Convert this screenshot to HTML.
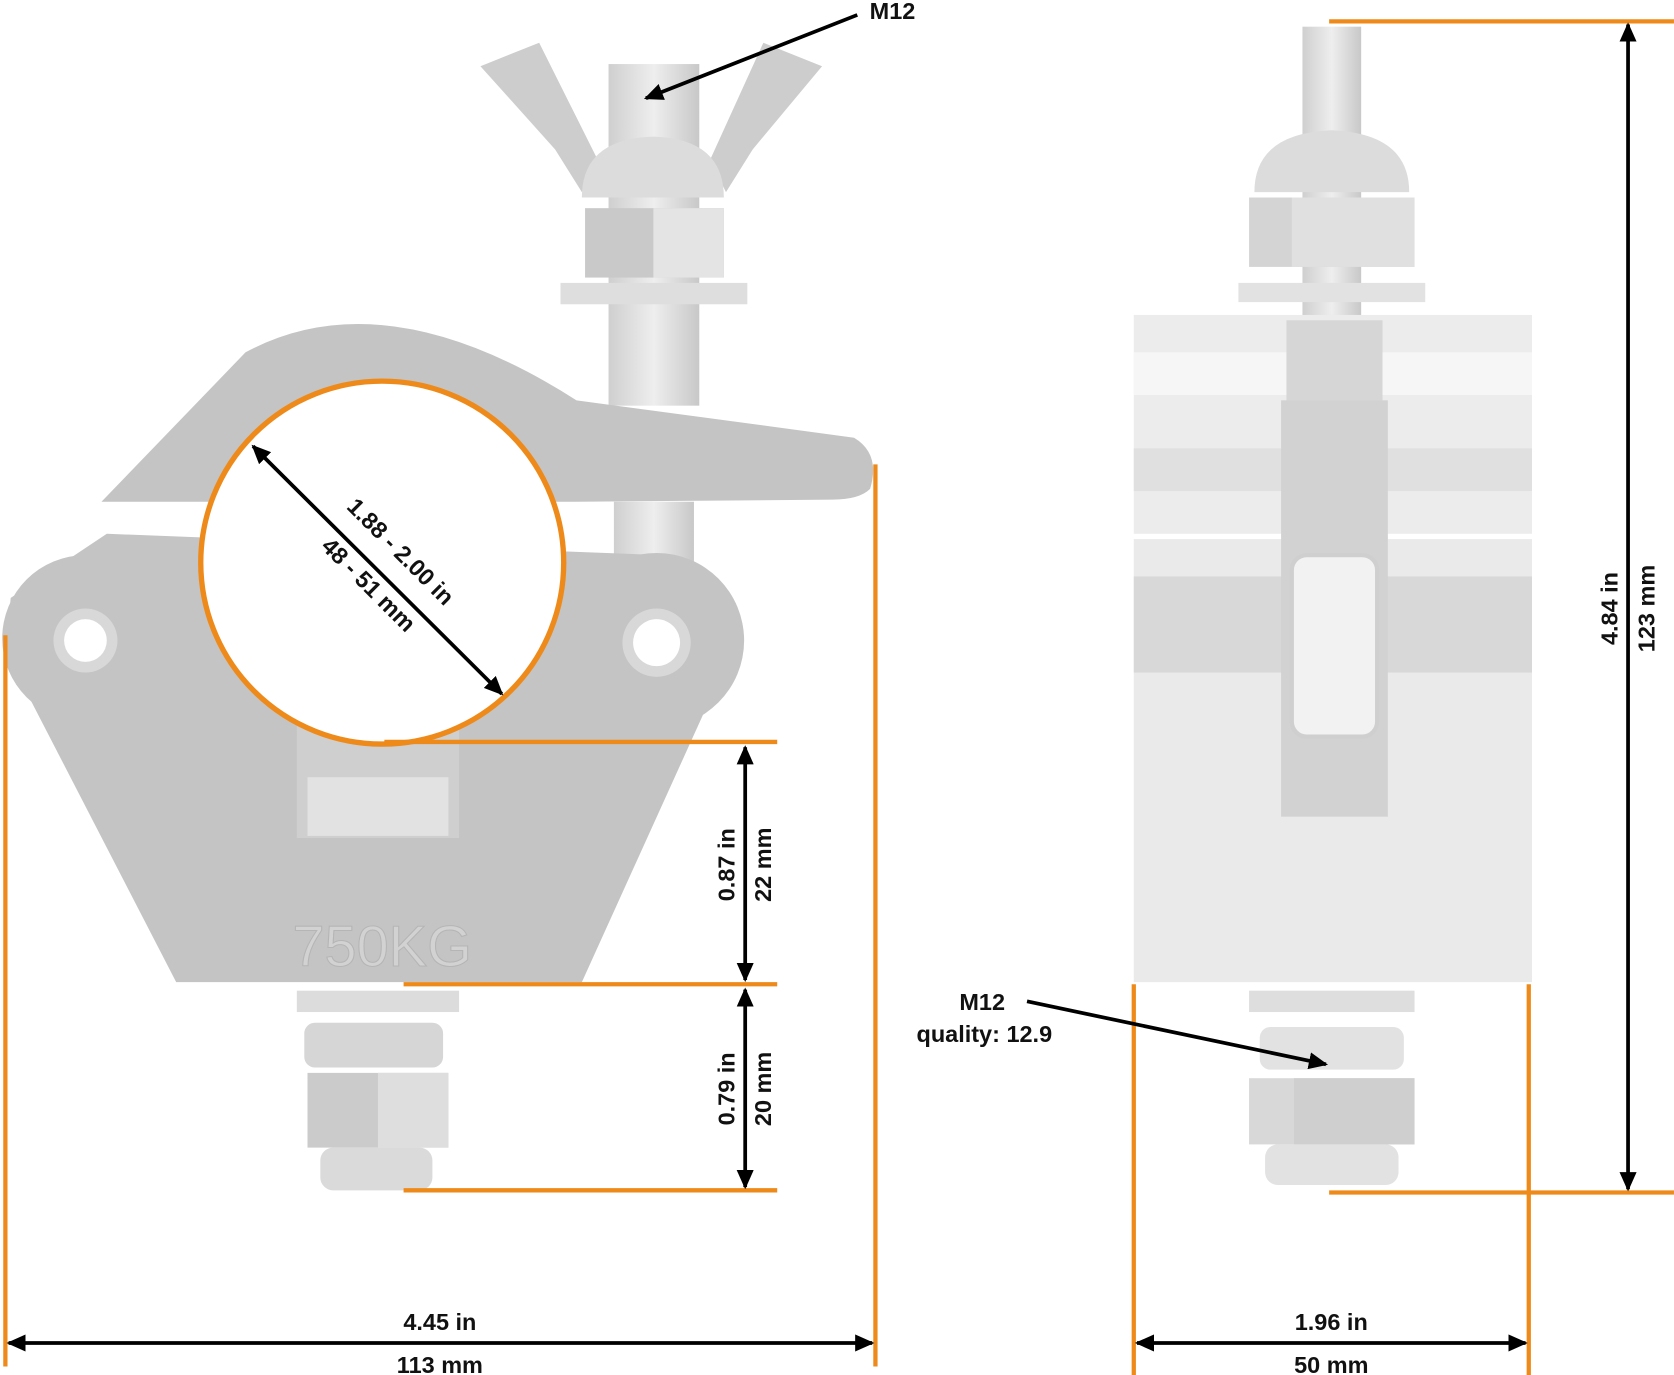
<!DOCTYPE html>
<html><head><meta charset="utf-8"><style>
html,body{margin:0;padding:0;background:#fff;}
svg{display:block;}
text{font-family:"Liberation Sans",sans-serif;font-weight:bold;fill:#111;}
</style></head><body>
<svg width="1674" height="1375" viewBox="0 0 1568 1288" xmlns="http://www.w3.org/2000/svg">
<defs>
<marker id="a" markerWidth="8" markerHeight="8" refX="7" refY="4" orient="auto-start-reverse" markerUnits="userSpaceOnUse" viewBox="0 0 8 8"><path d="M0,0 L8,4 L0,8z" fill="#000"/></marker>
<marker id="b" markerWidth="18" markerHeight="16" refX="16" refY="8" orient="auto-start-reverse" markerUnits="userSpaceOnUse"><path d="M0,0 L18,8 L0,16z" fill="#000"/></marker>
<linearGradient id="g1" x1="0" x2="1"><stop offset="0" stop-color="#cfcfcf"/><stop offset=".5" stop-color="#eee"/><stop offset="1" stop-color="#c8c8c8"/></linearGradient>
</defs>

<!-- LEFT CLAMP -->
<!-- top bolt -->
<rect x="570" y="60" width="85" height="320" fill="url(#g1)"/>
<path d="M450,62 L505,40 L560,150 L545,180 L520,140 Z" fill="#cdcdcd"/>
<path d="M770,62 L715,40 L665,150 L680,180 L705,140 Z" fill="#cdcdcd"/>
<path d="M545,185 Q545,130 612,128 Q678,130 678,185 Z" fill="#dcdcdc"/>
<rect x="548" y="195" width="130" height="65" fill="#c9c9c9"/>
<rect x="612" y="195" width="66" height="65" fill="#e4e4e4"/>
<rect x="525" y="265" width="175" height="20" fill="#dedede"/>
<rect x="575" y="470" width="75" height="60" fill="url(#g1)"/>
<!-- body -->
<path d="M95,470 L230,330 Q360,260 540,375 L800,410 Q825,425 815,458 Q805,468 780,468 L540,470 L95,470 Z" fill="#c4c4c4"/>
<circle cx="80" cy="598" r="78" fill="#c4c4c4"/>
<circle cx="615" cy="600" r="82" fill="#c4c4c4"/>
<path d="M10,560 L100,500 L620,520 L690,600 L545,920 L165,920 L5,610 Z" fill="#c4c4c4"/>
<circle cx="80" cy="600" r="30" fill="#d8d8d8"/><circle cx="80" cy="600" r="20" fill="#fff"/>
<circle cx="615" cy="602" r="32" fill="#d8d8d8"/><circle cx="615" cy="602" r="22" fill="#fff"/>
<rect x="278" y="620" width="152" height="165" fill="#cfcfcf"/>
<rect x="288" y="728" width="132" height="55" fill="#e2e2e2"/>
<circle cx="358" cy="527" r="170" fill="#fff" stroke="#ee8a1a" stroke-width="5"/>
<text x="358" y="905" font-size="54" text-anchor="middle" fill="#d5d5d5" style="fill:#d2d2d2;font-weight:normal" stroke="#b5b5b5" stroke-width="1">750KG</text>
<!-- bottom bolt -->
<rect x="278" y="928" width="152" height="20" fill="#dcdcdc"/>
<rect x="285" y="958" width="130" height="42" rx="10" fill="#d6d6d6"/>
<rect x="288" y="1005" width="132" height="70" fill="#cbcbcb"/>
<rect x="354" y="1005" width="66" height="70" fill="#dedede"/>
<rect x="300" y="1075" width="105" height="40" rx="12" fill="#dadada"/>

<!-- RIGHT CLAMP -->
<rect x="1220" y="25" width="55" height="350" fill="url(#g1)"/>
<path d="M1175,180 Q1175,125 1247,122 Q1320,125 1320,180 Z" fill="#dcdcdc"/>
<rect x="1170" y="185" width="155" height="65" fill="#d4d4d4"/>
<rect x="1210" y="185" width="115" height="65" fill="#e0e0e0"/>
<rect x="1160" y="265" width="175" height="18" fill="#e2e2e2"/>
<rect x="1062" y="295" width="373" height="205" fill="#ececec"/>
<rect x="1062" y="330" width="373" height="40" fill="#f6f6f6"/>
<rect x="1062" y="420" width="373" height="40" fill="#e0e0e0"/>
<rect x="1062" y="505" width="373" height="415" fill="#eaeaea"/>
<rect x="1062" y="540" width="373" height="90" fill="#d8d8d8"/>
<rect x="1205" y="300" width="90" height="80" fill="#d6d6d6"/>
<rect x="1200" y="375" width="100" height="390" fill="#d2d2d2"/>
<rect x="1210" y="520" width="80" height="170" rx="14" fill="#f2f2f2" stroke="#cfcfcf" stroke-width="4"/>
<rect x="1170" y="928" width="155" height="20" fill="#dedede"/>
<rect x="1180" y="962" width="135" height="40" rx="10" fill="#e2e2e2"/>
<rect x="1170" y="1010" width="155" height="62" fill="#d8d8d8"/>
<rect x="1212" y="1010" width="113" height="62" fill="#cfcfcf"/>
<rect x="1185" y="1072" width="125" height="38" rx="12" fill="#e2e2e2"/>

<!-- ORANGE DIM LINES -->
<g stroke="#ee8a1a" stroke-width="4" fill="none">
<line x1="820" y1="435" x2="820" y2="1280"/>
<line x1="5" y1="595" x2="5" y2="1280"/>
<line x1="360" y1="695" x2="728" y2="695"/>
<line x1="378" y1="922" x2="728" y2="922"/>
<line x1="378" y1="1115" x2="728" y2="1115"/>
<line x1="1062" y1="922" x2="1062" y2="1288"/>
<line x1="1432" y1="922" x2="1432" y2="1288"/>
<line x1="1245" y1="20" x2="1568" y2="20"/>
<line x1="1245" y1="1117" x2="1568" y2="1117"/>
</g>

<!-- ARROWS -->
<g stroke="#000" stroke-width="3.5">
<line x1="698" y1="700" x2="698" y2="918" marker-start="url(#b)" marker-end="url(#b)"/>
<line x1="698" y1="927" x2="698" y2="1112" marker-start="url(#b)" marker-end="url(#b)"/>
<line x1="8" y1="1258" x2="817" y2="1258" marker-start="url(#b)" marker-end="url(#b)"/>
<line x1="1065" y1="1258" x2="1429" y2="1258" marker-start="url(#b)" marker-end="url(#b)"/>
<line x1="1525" y1="23" x2="1525" y2="1114" marker-start="url(#b)" marker-end="url(#b)"/>
<line x1="237" y1="418" x2="470" y2="650" marker-start="url(#b)" marker-end="url(#b)"/>
<line x1="803" y1="14" x2="605" y2="92" marker-end="url(#b)"/>
<line x1="962" y1="938" x2="1242" y2="997" marker-end="url(#b)"/>
</g>

<!-- LABELS -->
<g font-size="22">
<text x="836" y="18" text-anchor="middle">M12</text>
<text x="920" y="946" text-anchor="middle">M12</text>
<text x="922" y="976" text-anchor="middle">quality: 12.9</text>
<text x="412" y="1246" text-anchor="middle">4.45 in</text>
<text x="412" y="1286" text-anchor="middle">113 mm</text>
<text x="1247" y="1246" text-anchor="middle">1.96 in</text>
<text x="1247" y="1286" text-anchor="middle">50 mm</text>
<text transform="translate(688,810) rotate(-90)" text-anchor="middle">0.87 in</text>
<text transform="translate(722,810) rotate(-90)" text-anchor="middle">22 mm</text>
<text transform="translate(688,1020) rotate(-90)" text-anchor="middle">0.79 in</text>
<text transform="translate(722,1020) rotate(-90)" text-anchor="middle">20 mm</text>
<text transform="translate(1515,570) rotate(-90)" text-anchor="middle">4.84 in</text>
<text transform="translate(1550,570) rotate(-90)" text-anchor="middle">123 mm</text>
<text transform="translate(370,522) rotate(45)" text-anchor="middle">1.88 - 2.00 in</text>
<text transform="translate(340,553) rotate(45)" text-anchor="middle">48 - 51 mm</text>
</g>
</svg>
</body></html>
